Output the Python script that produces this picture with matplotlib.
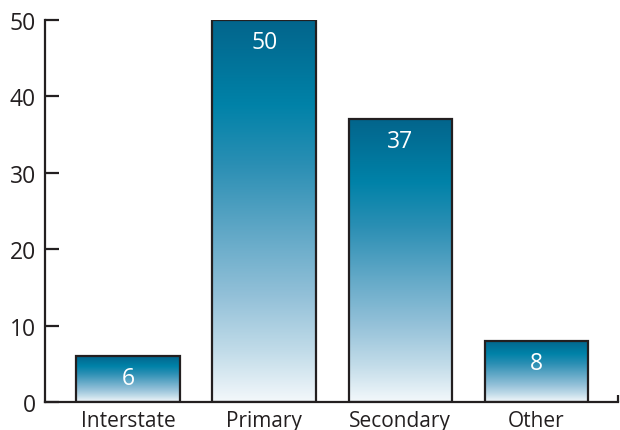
import numpy as np
import matplotlib
matplotlib.use("Agg")
import matplotlib.pyplot as plt
from matplotlib.colors import LinearSegmentedColormap

categories = ["Interstate", "Primary", "Secondary", "Other"]
values = [6, 50, 37, 8]
yticks = [0, 10, 20, 30, 40, 50]

ink = "#231f20"
plt.rcParams['font.family'] = ['Open Sans', 'DejaVu Sans']

# gradient: bottom (0) light -> top (1) dark teal
grad = LinearSegmentedColormap.from_list("teal", [
    (0.00, "#f3f8fb"),
    (0.13, "#c2dce9"),
    (0.28, "#92c0d8"),
    (0.45, "#5fa7c6"),
    (0.62, "#2b8fb4"),
    (0.78, "#0082a8"),
    (1.00, "#03658c"),
])


def main():
    fig = plt.figure(figsize=(6.2, 4.31), dpi=100)
    ax = fig.add_axes([0.0726, 0.065, 0.9242, 0.8863])

    x = np.arange(len(categories))
    bars = ax.bar(x, values, width=0.76, facecolor="none",
                  edgecolor=ink, linewidth=1.6, zorder=3)

    ramp = np.linspace(0, 1, 256).reshape(-1, 1)
    for b, v in zip(bars, values):
        x0, y0 = b.get_x(), b.get_y()
        ax.imshow(ramp, cmap=grad, origin="lower", aspect="auto",
                  extent=(x0, x0 + b.get_width(), y0, y0 + b.get_height()),
                  zorder=2)
        ax.annotate(str(v), (b.get_x() + b.get_width() / 2, v),
                    xytext=(0, -7), textcoords="offset points",
                    ha="center", va="top", color="white", fontsize=16.5,
                    zorder=4)

    ax.set_xlim(-0.61, 3.60)
    ax.set_ylim(0, 50)
    ax.set_xticks(x)
    ax.set_xticklabels(categories)
    ax.set_xticks([3.60], minor=True)
    ax.set_yticks(yticks)

    for side in ["top", "right"]:
        ax.spines[side].set_visible(False)
    for side in ["left", "bottom"]:
        ax.spines[side].set_linewidth(1.6)
        ax.spines[side].set_color(ink)

    ax.tick_params(axis="x", which="major", length=0, pad=5.5,
                   labelsize=15, labelcolor=ink)
    ax.tick_params(axis="x", which="minor", direction="in", length=5,
                   width=1.6, color=ink)
    ax.tick_params(axis="y", direction="in", length=10, width=1.6,
                   color=ink, labelsize=16.5, labelcolor=ink, pad=6.5)

    fig.savefig("out.png", dpi=100)


if __name__ == '__main__':
    main()
